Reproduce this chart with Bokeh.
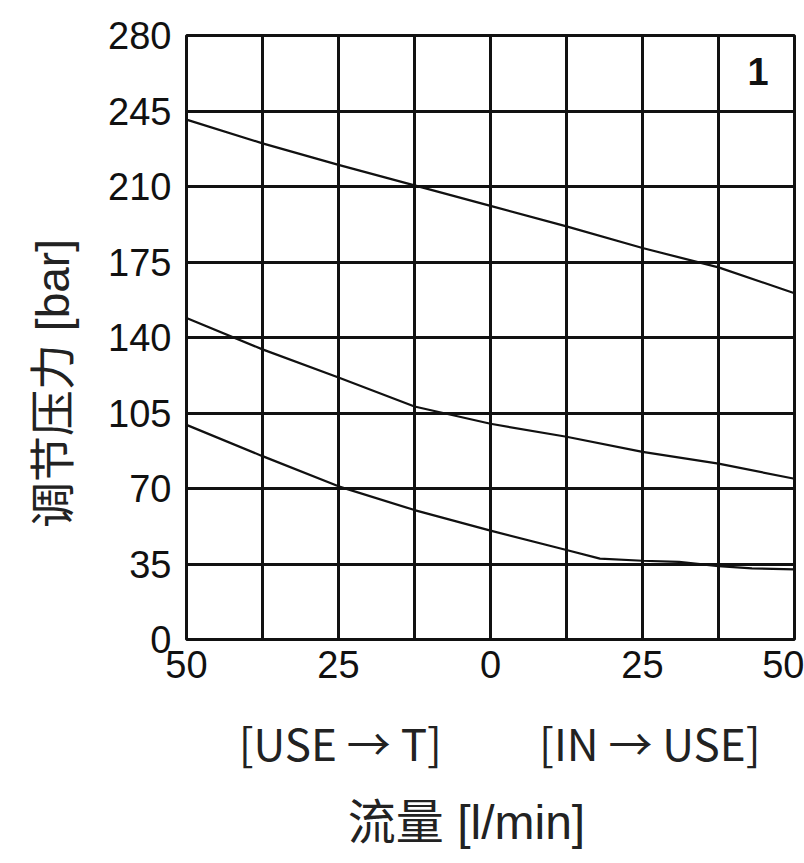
from bokeh.plotting import figure
from bokeh.models import FixedTicker, Range1d, Label, CustomJSTickFormatter, LinearAxis
from bokeh.embed import file_html
from bokeh.resources import INLINE

# ---- data ----
flow_ticks = [-50, -25, 0, 25, 50]
flow_grid = [-50, -37.5, -25, -12.5, 0, 12.5, 25, 37.5, 50]
pressure_ticks = [0, 35, 70, 105, 140, 175, 210, 245, 280]
direction_ticks = [-24.7, 26.2]
direction_labels = ["[USE → T]", "[IN → USE]"]

flow_a = [-50, -37.5, -25, -12.5, 0, 12.5, 25, 37.5, 50]
curve_top = [241, 230, 220, 210.5, 201, 191.5, 181.5, 172.5, 160.5]

flow_b = [-50, -37.5, -25, -12.5, 0, 12.5, 25, 37.5, 50]
curve_mid = [149, 134.5, 121.5, 108, 100, 94, 87, 81.5, 74.5]

flow_c = [-50, -37.5, -25, -12.5, 0, 12.5, 18, 25, 31, 37.5, 43, 50]
curve_low = [99.5, 85, 71, 60, 50.5, 41.5, 37.5, 36.5, 36, 34, 33, 32.5]

TICK_FONT = "Liberation Sans"
LAB_FONT = "Liberation Sans, Noto Sans CJK SC, sans-serif"
DIR_FONT = "Noto Sans CJK SC, Liberation Sans, sans-serif"

p = figure(output_backend="svg", toolbar_location=None,
           frame_width=608, frame_height=604,
           min_border_left=186, min_border_right=10,
           min_border_top=35, min_border_bottom=220,
           x_range=Range1d(-50, 50), y_range=Range1d(0, 280))
p.background_fill_color = "white"
p.border_fill_color = "white"
p.outline_line_color = "#111111"
p.outline_line_width = 3

# axes
p.xaxis.ticker = FixedTicker(ticks=flow_ticks)
p.xaxis.formatter = CustomJSTickFormatter(code="return Math.abs(tick).toString();")
p.yaxis.ticker = FixedTicker(ticks=pressure_ticks)
for ax in (p.xaxis, p.yaxis):
    ax.axis_line_color = None
    ax.major_tick_line_color = None
    ax.minor_tick_line_color = None
    ax.major_label_text_font = TICK_FONT
    ax.major_label_text_font_size = "38px"
    ax.major_label_text_color = "#111111"
p.xaxis.major_label_standoff = 5
p.yaxis.major_label_standoff = 9

p.yaxis.axis_label = "调节压力 [bar]\u3000\u3000"
p.yaxis.axis_label_text_font = LAB_FONT
p.yaxis.axis_label_text_font_size = "46px"
p.yaxis.axis_label_text_font_style = "normal"
p.yaxis.axis_label_text_color = "#222222"
p.yaxis.axis_label_standoff = 26

# second axis below: flow direction labels and axis title
dir_axis = LinearAxis(ticker=FixedTicker(ticks=direction_ticks),
                      formatter=CustomJSTickFormatter(
                          args=dict(labels=direction_labels),
                          code="return tick < 0 ? labels[0] : labels[1];"))
dir_axis.axis_line_color = None
dir_axis.major_tick_line_color = None
dir_axis.minor_tick_line_color = None
dir_axis.major_label_text_font = DIR_FONT
dir_axis.major_label_text_font_size = "44px"
dir_axis.major_label_text_color = "#222222"
dir_axis.major_label_standoff = 23
dir_axis.axis_label = "流量 [l/min]\u3000"
dir_axis.axis_label_text_font = LAB_FONT
dir_axis.axis_label_text_font_size = "48px"
dir_axis.axis_label_text_font_style = "normal"
dir_axis.axis_label_text_color = "#222222"
dir_axis.axis_label_standoff = 19
p.add_layout(dir_axis, "below")

# grid
p.xgrid.ticker = FixedTicker(ticks=flow_grid)
p.ygrid.ticker = FixedTicker(ticks=pressure_ticks)
for g in (p.xgrid, p.ygrid):
    g.grid_line_color = "#111111"
    g.grid_line_width = 3
    g.grid_line_alpha = 1.0

# curves
for xs, ys in ((flow_a, curve_top), (flow_b, curve_mid), (flow_c, curve_low)):
    p.line(xs, ys, line_color="#111111", line_width=2.2)

# curve set number
p.add_layout(Label(x=44, y=263.5, text="1", text_font=TICK_FONT,
                   text_font_size="38px", text_font_style="bold",
                   text_align="center", text_baseline="middle",
                   text_color="#111111"))

open("out.html", "w").write(file_html(p, INLINE))
